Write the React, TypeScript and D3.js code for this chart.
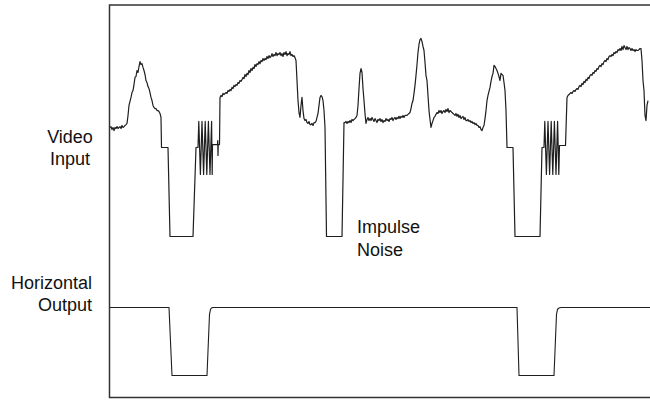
import React from "react";
import * as d3 from "d3";

const W = 650;
const H = 401;

// scope sample period, µs
const DT = 0.2;

// video input, IRE (blanking = 0, sync tip = -40)
const active1Start = 0;
const active1 = [
  9.0, 9.4, 8.1, 9.0, 7.6, 9.0, 8.5, 9.4, 8.5, 9.0,
  9.4, 8.5, 9.9, 9.0, 9.4, 9.9, 10.3, 10.8, 14.4, 18.9,
  20.7, 22.5, 24.7, 25.6, 28.3, 31.5, 31.9, 34.6, 33.7, 36.4,
  38.6, 37.3, 37.7, 36.0, 34.6, 32.8, 30.1, 29.2, 27.4, 26.5,
  24.7, 22.5, 21.1, 18.9, 18.0, 17.5, 17.5, 16.6, 16.6, 16.2,
  15.3, 13.5,
];

const blank1: [number, number][] = [
  [10.3, 0], [11.6, 0], [12.0, -40], [16.6, -40], [17.2, 0], [17.6, 0],
];

const burst1: [number, number][] = [
  [17.76, 11.7], [18.08, -12.1], [18.4, 11.7], [18.72, -12.1], [19.04, 11.7],
  [19.36, -12.1], [19.68, 11.7], [20.0, -12.1], [20.32, 11.7], [20.44, -12.1],
];

const porch1: [number, number][] = [
  [20.5, 1.3], [21.5, 1.3], [21.55, 3.1], [21.6, -3.6], [21.65, 1.3], [21.9, 1.3],
];

const active2Start = 22.0;
const active2 = [
  22.5, 23.4, 22.9, 24.3, 23.8, 24.3, 24.7, 24.3, 25.6, 25.2,
  26.1, 25.6, 27.0, 26.5, 27.9, 27.4, 28.3, 27.9, 29.2, 28.8,
  30.1, 29.7, 30.6, 31.5, 31.0, 32.8, 31.9, 33.3, 32.8, 34.6,
  33.7, 35.5, 34.6, 36.0, 35.5, 37.3, 36.4, 37.7, 37.3, 38.6,
  37.7, 39.1, 38.6, 40.0, 39.1, 40.0, 39.5, 40.9, 40.0, 41.3,
  40.4, 40.9, 42.2, 40.9, 41.8, 41.3, 42.7, 41.3, 42.2, 41.8,
  42.7, 41.3, 42.2, 40.9, 42.7, 41.8, 43.1, 41.3, 42.2, 41.8,
  43.1, 41.3, 41.8, 40.9, 41.3, 40.4, 39.1, 30.1, 21.1, 15.7,
  13.5, 18.9, 22.5, 16.6, 13.0, 12.1, 12.6, 11.2, 10.8, 11.7,
  10.3, 10.3, 10.8, 9.9, 11.2, 11.2, 11.7, 13.5, 15.3, 18.9,
  22.5, 23.4, 22.9, 21.1, 16.6, 9.0,
];

// the impulse noise that looks like a sync pulse
const impulse: [number, number][] = [
  [43.3, -40], [46.4, -40], [46.8, 11.2],
];

const active3Start = 47.0;
const active3 = [
  11.2, 11.7, 10.8, 11.7, 11.2, 12.1, 11.2, 12.6, 12.1, 12.6,
  13.0, 13.5, 14.4, 18.9, 26.5, 33.3, 35.5, 33.7, 26.5, 21.1,
  15.3, 10.8, 12.6, 13.5, 12.1, 13.0, 12.1, 13.5, 12.6, 11.7,
  13.0, 12.1, 11.2, 12.6, 12.1, 13.0, 11.7, 12.6, 11.2, 12.1,
  11.7, 13.0, 12.1, 12.6, 11.7, 13.0, 12.6, 13.5, 12.1, 13.0,
  13.5, 12.6, 13.5, 13.0, 14.0, 13.0, 14.0, 13.5, 14.4, 13.5,
  14.4, 14.4, 14.4, 14.9, 15.3, 15.7, 17.5, 19.8, 21.1, 24.3,
  27.9, 32.4, 37.3, 42.7, 46.3, 48.5, 49.0, 47.6, 45.4, 43.6,
  38.2, 32.4, 30.1, 23.4, 16.6, 12.6, 9.0, 10.8, 12.1, 13.5,
  14.0, 14.9, 15.7, 15.3, 16.6, 15.7, 16.6, 15.3, 16.2, 16.6,
  15.7, 17.1, 16.2, 17.5, 15.7, 16.6, 16.2, 15.7, 15.3, 14.9,
  14.4, 15.3, 14.0, 14.9, 13.5, 14.4, 13.0, 13.5, 14.0, 12.6,
  13.5, 12.1, 12.1, 12.6, 11.7, 12.1, 11.2, 11.7, 10.8, 11.2,
  10.3, 10.8, 9.9, 9.9, 9.0, 9.4, 8.1, 7.6, 9.0, 9.9,
  13.0, 16.6, 21.1, 23.4, 25.2, 27.0, 29.7, 31.9, 33.3, 36.9,
  36.4, 35.5, 34.6, 33.3, 31.9, 30.1, 33.3, 32.8, 32.4, 29.2,
  25.6, 16.6,
];

const blank2: [number, number][] = [
  [79.4, 0], [80.6, 0], [81.0, -40], [86.0, -40], [86.4, 0], [86.8, 0],
];

const burst2: [number, number][] = [
  [86.96, 11.7], [87.28, -12.1], [87.6, 11.7], [87.92, -12.1], [88.24, 11.7],
  [88.56, -12.1], [88.88, 11.7], [89.2, -12.1], [89.52, 11.7], [89.76, -12.1],
];

const porch2: [number, number][] = [
  [89.9, 0.9], [91.1, 0.9],
];

const active4Start = 91.4;
const active4 = [
  22.5, 23.4, 23.8, 24.3, 24.7, 24.3, 25.2, 25.6, 25.2, 26.1,
  26.5, 26.1, 27.4, 27.9, 27.4, 28.8, 28.3, 29.7, 29.2, 30.6,
  30.1, 31.5, 31.0, 32.4, 32.8, 32.4, 33.7, 33.3, 34.6, 34.2,
  35.5, 35.1, 36.4, 36.9, 36.4, 37.7, 37.3, 38.6, 39.1, 38.6,
  40.0, 39.5, 40.9, 41.3, 40.9, 41.8, 41.3, 42.7, 42.2, 43.1,
  42.7, 44.0, 43.6, 44.5, 43.6, 45.4, 44.0, 45.8, 44.9, 44.0,
  45.4, 44.0, 44.9, 44.5, 43.6, 44.5, 43.6, 44.0, 43.1, 44.0,
  43.6, 43.6, 44.0, 44.5, 44.5, 39.1, 30.1, 25.6, 14.4, 12.1,
  18.9, 21.1,
];

// horizontal sync output, volts
const hOut: [number, number][] = [
  [0, 5], [11.8, 5], [12.4, 0], [19.4, 0], [19.9, 4.5], [20.1, 4.86],
  [20.3, 4.96], [20.6, 5], [81.4, 5], [81.8, 0], [88.8, 0], [89.3, 4.5],
  [89.5, 4.86], [89.8, 4.96], [90.2, 5], [108, 5],
];

const leftLabels = [
  { lines: ["Video", "Input"], y: 143, anchor: "middle", x: 70 },
  { lines: ["Horizontal", "Output"], y: 289, anchor: "end", x: 92 },
];

const sampled = (t0: number, vals: number[]): [number, number][] =>
  vals.map((v, i) => [t0 + i * DT, v]);

export default function App() {
  const x = d3.scaleLinear().domain([0, 108]).range([110, W]);
  const yVid = d3.scaleLinear().domain([-40, 0]).range([236.5, 147.5]);
  const yOut = d3.scaleLinear().domain([0, 5]).range([375.5, 307.5]);

  const video: [number, number][] = [
    ...sampled(active1Start, active1),
    ...blank1,
    ...burst1,
    ...porch1,
    ...sampled(active2Start, active2),
    ...impulse,
    ...sampled(active3Start, active3),
    ...blank2,
    ...burst2,
    ...porch2,
    ...sampled(active4Start, active4),
  ];

  const vidLine = d3
    .line<[number, number]>()
    .x((d) => x(d[0]))
    .y((d) => yVid(d[1]));
  const outLine = d3
    .line<[number, number]>()
    .x((d) => x(d[0]))
    .y((d) => yOut(d[1]));

  const x0 = x.range()[0] - 0.5;
  const x1 = x.range()[1];
  const top = 5;
  const bottom = 397.5;
  const font = "'Liberation Sans', Arial, Helvetica, sans-serif";

  return (
    <svg
      width={W}
      height={H}
      style={{ position: "absolute", left: 0, top: 0, display: "block" }}
    >
      <rect width={W} height={H} fill="#fff" />
      <path
        d={`M${x1},${top}H${x0}V${bottom}H${x1}`}
        fill="none"
        stroke="#333"
        strokeWidth={1.5}
      />
      <path
        d={vidLine(video) ?? ""}
        fill="none"
        stroke="#1e1e1e"
        strokeWidth={1.2}
        strokeLinejoin="round"
      />
      <path
        d={outLine(hOut) ?? ""}
        fill="none"
        stroke="#1e1e1e"
        strokeWidth={1.1}
      />
      {leftLabels.map((l) =>
        l.lines.map((s, i) => (
          <text
            key={s}
            x={l.x}
            y={l.y + i * 22}
            textAnchor={l.anchor as any}
            fontFamily={font}
            fontSize={18}
            fill="#111"
          >
            {s}
          </text>
        ))
      )}
      {["Impulse", "Noise"].map((s, i) => (
        <text
          key={s}
          x={357}
          y={233 + i * 23}
          fontFamily={font}
          fontSize={18}
          fill="#111"
        >
          {s}
        </text>
      ))}
    </svg>
  );
}
